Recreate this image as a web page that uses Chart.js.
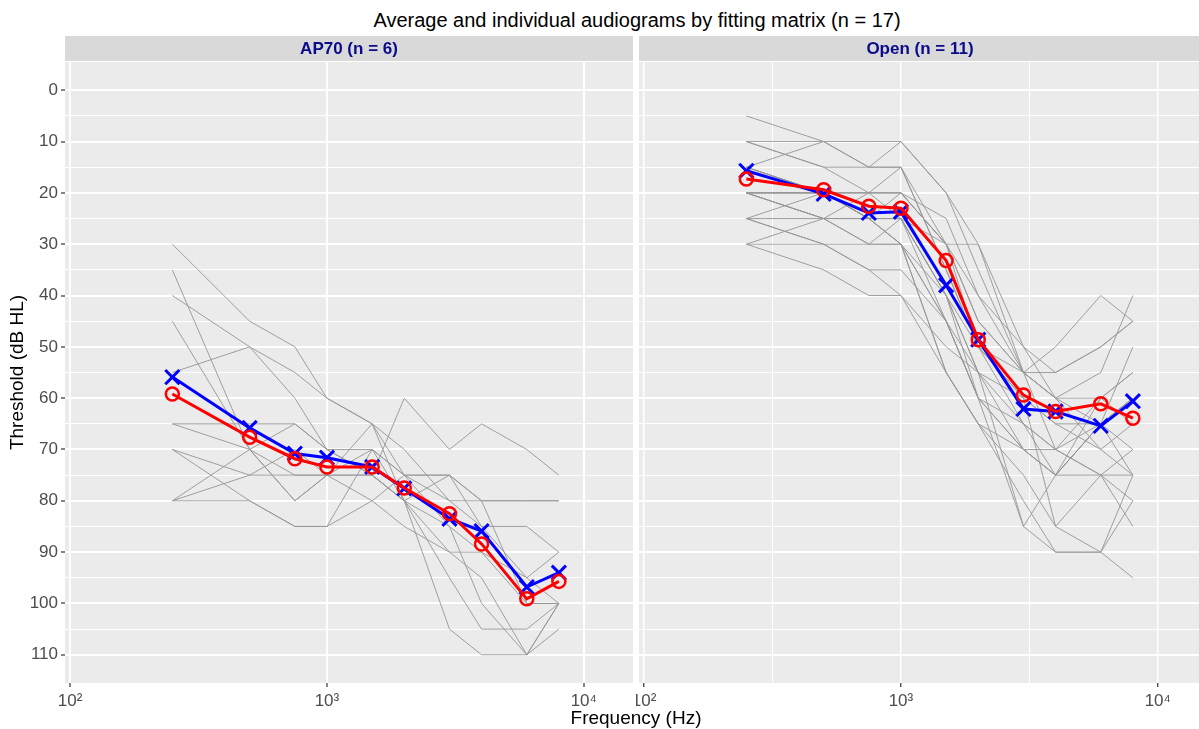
<!DOCTYPE html>
<html>
<head>
<meta charset="utf-8">
<title>Audiogramas</title>
<script src="https://cdn.jsdelivr.net/npm/chart.js@4.4.1/dist/chart.umd.min.js"></script>
<style>
  body { margin: 0; background: #fff; overflow: hidden; width: 1199px; height: 729px; position: relative;
         font-family: "Liberation Sans", Arial, sans-serif; }
  #titulo { position: absolute; left: 0; top: 8px; width: 1274px; text-align: center; font-size: 20px; line-height: 24px; color: #000; }
  #tituloX { position: absolute; left: 0; top: 706px; width: 1272px; text-align: center; font-size: 19px; line-height: 24px; color: #000; }
  #graficaAP70 { position: absolute; left: 0; top: 36px; }
  #graficaOpen { position: absolute; left: 636px; top: 36px; }
</style>
</head>
<body>
<div id="titulo">Average and individual audiograms by fitting matrix (n = 17)</div>
<canvas id="graficaAP70" width="636" height="693"></canvas>
<canvas id="graficaOpen" width="571" height="693"></canvas>
<div id="tituloX">Frequency (Hz)</div>

<script>
var frecuencias = [250, 500, 750, 1000, 1500, 2000, 3000, 4000, 6000, 8000];

// medias: X azul (oido izquierdo), O rojo (oido derecho)
var mediaAP70Azul = [55.9, 65.8, 70.8, 71.6, 73.4, 77.6, 83.5, 85.9, 96.8, 94.0];
var mediaAP70Rojo = [59.2, 67.6, 71.8, 73.4, 73.4, 77.5, 82.5, 88.4, 99.1, 95.7];
var mediaOpenAzul = [15.7, 20.2, 23.9, 23.7, 38.0, 48.6, 62.1, 62.6, 65.4, 60.6];
var mediaOpenRojo = [17.3, 19.4, 22.6, 23.0, 33.2, 48.6, 59.4, 62.6, 61.1, 63.9];

var individualesAP70 = [
  [30, 45, 50, 60, 65, 70, 80, 85, 85, 90],
  [35, 70, 80, 75, 70, 80, 95, 105, 105, 100],
  [40, 50, 55, 60, 65, 75, 75, 80, 100, 100],
  [45, 70, 75, 75, 75, 80, 105, 110, 110, 100],
  [55, 50, 60, 70, 75, 60, 70, 65, 70, 75],
  [65, 65, 65, 70, 70, 75, 80, 80, 80, 80],
  [70, 75, 75, 75, 65, 80, 85, 90, 100, 100],
  [80, 70, 65, 70, 75, 80, 75, 80, 80, 80],
  [80, 80, 85, 85, 70, 75, 75, 85, 95, 90],
  [65, 70, 80, 75, 80, 85, 90, 95, 110, 105],
  [70, 80, 85, 85, 80, 75, 85, 100, 110, 100],
  [80, 75, 70, 75, 75, 80, 90, 90, 95, 100]
];

var individualesOpen = [
  [5, 10, 15, 10, 20, 30, 55, 70, 75, 80],
  [10, 10, 10, 10, 20, 35, 55, 50, 40, 45],
  [10, 15, 20, 20, 25, 40, 55, 60, 55, 40],
  [15, 10, 15, 15, 35, 50, 60, 65, 65, 60],
  [15, 20, 25, 25, 45, 55, 70, 75, 75, 85],
  [20, 20, 20, 20, 30, 30, 50, 55, 50, 45],
  [20, 25, 30, 30, 45, 60, 70, 75, 65, 70],
  [20, 20, 25, 25, 40, 55, 85, 75, 65, 75],
  [25, 25, 30, 25, 30, 45, 55, 60, 70, 65],
  [25, 30, 35, 35, 45, 60, 65, 70, 60, 55],
  [30, 25, 20, 15, 30, 50, 60, 85, 90, 95],
  [20, 20, 25, 30, 55, 65, 70, 75, 65, 50],
  [15, 20, 20, 20, 30, 45, 55, 55, 50, 45],
  [20, 25, 25, 30, 40, 60, 85, 90, 90, 80],
  [30, 30, 35, 40, 50, 55, 60, 65, 70, 75],
  [10, 15, 15, 15, 35, 50, 55, 60, 60, 55],
  [20, 20, 20, 25, 40, 50, 65, 75, 60, 65],
  [25, 30, 30, 30, 55, 65, 75, 85, 75, 70],
  [15, 20, 25, 25, 40, 55, 65, 70, 75, 75],
  [20, 25, 25, 20, 30, 40, 50, 60, 65, 60],
  [30, 35, 40, 40, 55, 65, 80, 90, 90, 75],
  [25, 20, 25, 30, 45, 60, 70, 70, 65, 60]
];

var ticksY = [0, 10, 20, 30, 40, 50, 60, 70, 80, 90, 100, 110];
var ticksYMenores = [5, 15, 25, 35, 45, 55, 65, 75, 85, 95, 105];
var ticksX = [100, 1000, 10000];
var etiquetasX = ['10\u00B2', '10\u00B3', '10\u2074'];
var ticksXMenores = [316.23, 3162.3];

var fuente = '"Liberation Sans", Arial, sans-serif';

var fondoPanel = {
  id: 'fondoPanel',
  beforeDraw: function(chart) {
    var ctx = chart.ctx;
    var a = chart.chartArea;
    ctx.save();
    ctx.fillStyle = '#EBEBEB';
    ctx.fillRect(a.left, a.top, a.right - a.left, a.bottom - a.top);
    ctx.fillStyle = '#D9D9D9';
    ctx.fillRect(a.left, a.top - 26, a.right - a.left, 25);
    ctx.fillStyle = '#0A0A8C';
    ctx.font = 'bold 17px ' + fuente;
    ctx.textAlign = 'center';
    ctx.textBaseline = 'middle';
    var centro = (a.left + Math.min(a.right, chart.width)) / 2;
    if (chart.options.plugins.fondoPanel.centro) centro = chart.options.plugins.fondoPanel.centro;
    ctx.fillText(chart.options.plugins.fondoPanel.texto, centro, a.top - 13);
    ctx.restore();
  }
};

function puntos(valores) {
  return frecuencias.map(function(f, i) {
    return { x: f, y: valores[i] };
  });
}

function armarDatasets(individuales, azul, rojo) {
  var ds = [];
  ds.push({
    data: puntos(rojo), borderColor: '#FF0000', borderWidth: 3,
    pointStyle: 'circle', pointRadius: 6.5, pointBorderWidth: 2.5,
    pointBorderColor: '#FF0000', pointBackgroundColor: 'rgba(0,0,0,0)', order: 0
  });
  ds.push({
    data: puntos(azul), borderColor: '#0000FF', borderWidth: 3,
    pointStyle: 'crossRot', pointRadius: 10, pointBorderWidth: 3,
    pointBorderColor: '#0000FF', order: 1
  });
  individuales.forEach(function(v) {
    ds.push({
      data: puntos(v), borderColor: 'rgba(150,150,150,0.9)', borderWidth: 1,
      pointRadius: 0, order: 2
    });
  });
  return ds;
}

function opciones(conEjeY, menoresX, texto, centro) {
  var todosX = ticksX.concat(menoresX).sort(function(a, b) { return a - b; });
  return {
    responsive: false,
    animation: false,
    layout: { autoPadding: false, padding: { top: 26, right: conEjeY ? 3 : 0, left: 0, bottom: 0 } },
    plugins: {
      legend: { display: false },
      tooltip: { enabled: false },
      fondoPanel: { texto: texto, centro: centro }
    },
    scales: {
      x: {
        type: 'logarithmic',
        min: 95.5,
        max: 15550,
        border: { display: false },
        afterBuildTicks: function(scale) {
          scale.ticks = todosX.map(function(v) { return { value: v }; });
        },
        afterFit: function(scale) {
          scale.height = 46;
          scale.paddingLeft = 0;
          scale.paddingRight = 0;
        },
        ticks: {
          autoSkip: false, maxRotation: 0, padding: 4,
          color: '#4D4D4D', font: { family: fuente, size: 17 },
          callback: function(value) {
            var i = ticksX.indexOf(value);
            return i >= 0 ? etiquetasX[i] : '';
          }
        },
        grid: {
          color: '#FFFFFF',
          lineWidth: function(ctx) {
            if (!ctx.tick) return 1;
            return ticksX.indexOf(ctx.tick.value) >= 0 ? (conEjeY ? 2 : 1.5) : 1;
          },
          tickLength: 4,
          tickWidth: 1.2,
          tickColor: function(ctx) {
            if (!ctx.tick) return 'rgba(0,0,0,0)';
            return ticksX.indexOf(ctx.tick.value) >= 0 ? '#333333' : 'rgba(0,0,0,0)';
          }
        }
      },
      y: {
        type: 'linear',
        reverse: true,
        min: -5.5,
        max: 115.5,
        border: { display: false },
        afterBuildTicks: function(scale) {
          var todos = ticksY.concat(ticksYMenores).sort(function(a, b) { return a - b; });
          scale.ticks = todos.map(function(v) { return { value: v }; });
        },
        afterFit: function(scale) {
          scale.width = conEjeY ? 65 : 3;
          scale.paddingTop = 0;
          scale.paddingBottom = 0;
        },
        title: {
          display: conEjeY,
          text: 'Threshold (dB HL)',
          color: '#000000',
          font: { family: fuente, size: 19 },
          padding: { top: 6, bottom: 0 }
        },
        ticks: {
          display: conEjeY,
          autoSkip: false, padding: 3,
          color: '#4D4D4D', font: { family: fuente, size: 17 },
          callback: function(value) {
            return ticksY.indexOf(value) >= 0 ? String(value) : '';
          }
        },
        grid: {
          color: '#FFFFFF',
          lineWidth: function(ctx) {
            if (!ctx.tick) return 1;
            return ticksY.indexOf(ctx.tick.value) >= 0 ? 2 : 1;
          },
          drawTicks: conEjeY,
          tickLength: 4,
          tickWidth: 1.2,
          tickColor: function(ctx) {
            if (!ctx.tick) return 'rgba(0,0,0,0)';
            return ticksY.indexOf(ctx.tick.value) >= 0 ? '#333333' : 'rgba(0,0,0,0)';
          }
        }
      }
    }
  };
}

var graficaAP70 = new Chart(document.getElementById('graficaAP70'), {
  type: 'line',
  data: { datasets: armarDatasets(individualesAP70, mediaAP70Azul, mediaAP70Rojo) },
  options: opciones(true, [], 'AP70 (n = 6)', null),
  plugins: [fondoPanel]
});

var graficaOpen = new Chart(document.getElementById('graficaOpen'), {
  type: 'line',
  data: { datasets: armarDatasets(individualesOpen, mediaOpenAzul, mediaOpenRojo) },
  options: opciones(false, ticksXMenores, 'Open (n = 11)', 284),
  plugins: [fondoPanel]
});
</script>
</body>
</html>
